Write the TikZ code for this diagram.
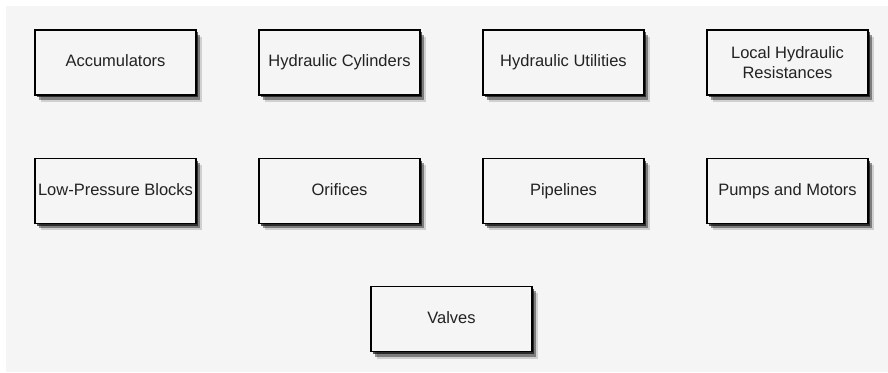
\documentclass[tikz,border=0pt]{standalone}
\usepackage{fontspec}
\setmainfont{Liberation Sans}
\usetikzlibrary{shadows}

\definecolor{bggray}{HTML}{F5F5F5}
\definecolor{boxtext}{HTML}{222222}

\begin{document}
\begin{tikzpicture}[x=1pt,y=1pt,
    block/.style={draw=black, line width=1.3pt, fill=bggray,
        minimum width=161pt, minimum height=65pt, inner sep=0pt,
        align=center, text=boxtext, font=\fontsize{16.5}{20}\selectfont,
        drop shadow={shadow xshift=2pt, shadow yshift=-2.5pt, fill=black, opacity=0.65},
        drop shadow={shadow xshift=4pt, shadow yshift=-5pt, fill=black, opacity=0.4},
        drop shadow={shadow xshift=6pt, shadow yshift=-7pt, fill=black, opacity=0.15}},
    single/.style={block, text height=12pt, text depth=3pt}]

    \def\cA{115.5}
    \def\cB{339.5}
    \def\cC{563.5}
    \def\cD{787.5}
    \def\rA{309.5}
    \def\rB{181}
    \def\rC{53}

    %page and gray canvas
    \useasboundingbox (0,0) rectangle (888,372);
    \fill[bggray] (6,0) rectangle (888,366);

    %first row
    \node[single] (accu) at (\cA,\rA) {Accumulators};
    \node[single] (cyl) at (\cB,\rA) {Hydraulic Cylinders};
    \node[single] (util) at (\cC,\rA) {Hydraulic Utilities};
    \node[block] (resist) at (\cD,\rA) {Local Hydraulic\\Resistances};

    %second row
    \node[single] (lowp) at (\cA,\rB) {Low-Pressure Blocks};
    \node[single] (orif) at (\cB,\rB) {Orifices};
    \node[single] (pipe) at (\cC,\rB) {Pipelines};
    \node[single] (pump) at (\cD,\rB) {Pumps and Motors};

    %last one, centred
    \node[single] (valve) at ({(\cB+\cC)/2},\rC) {Valves};

\end{tikzpicture}
\end{document}
